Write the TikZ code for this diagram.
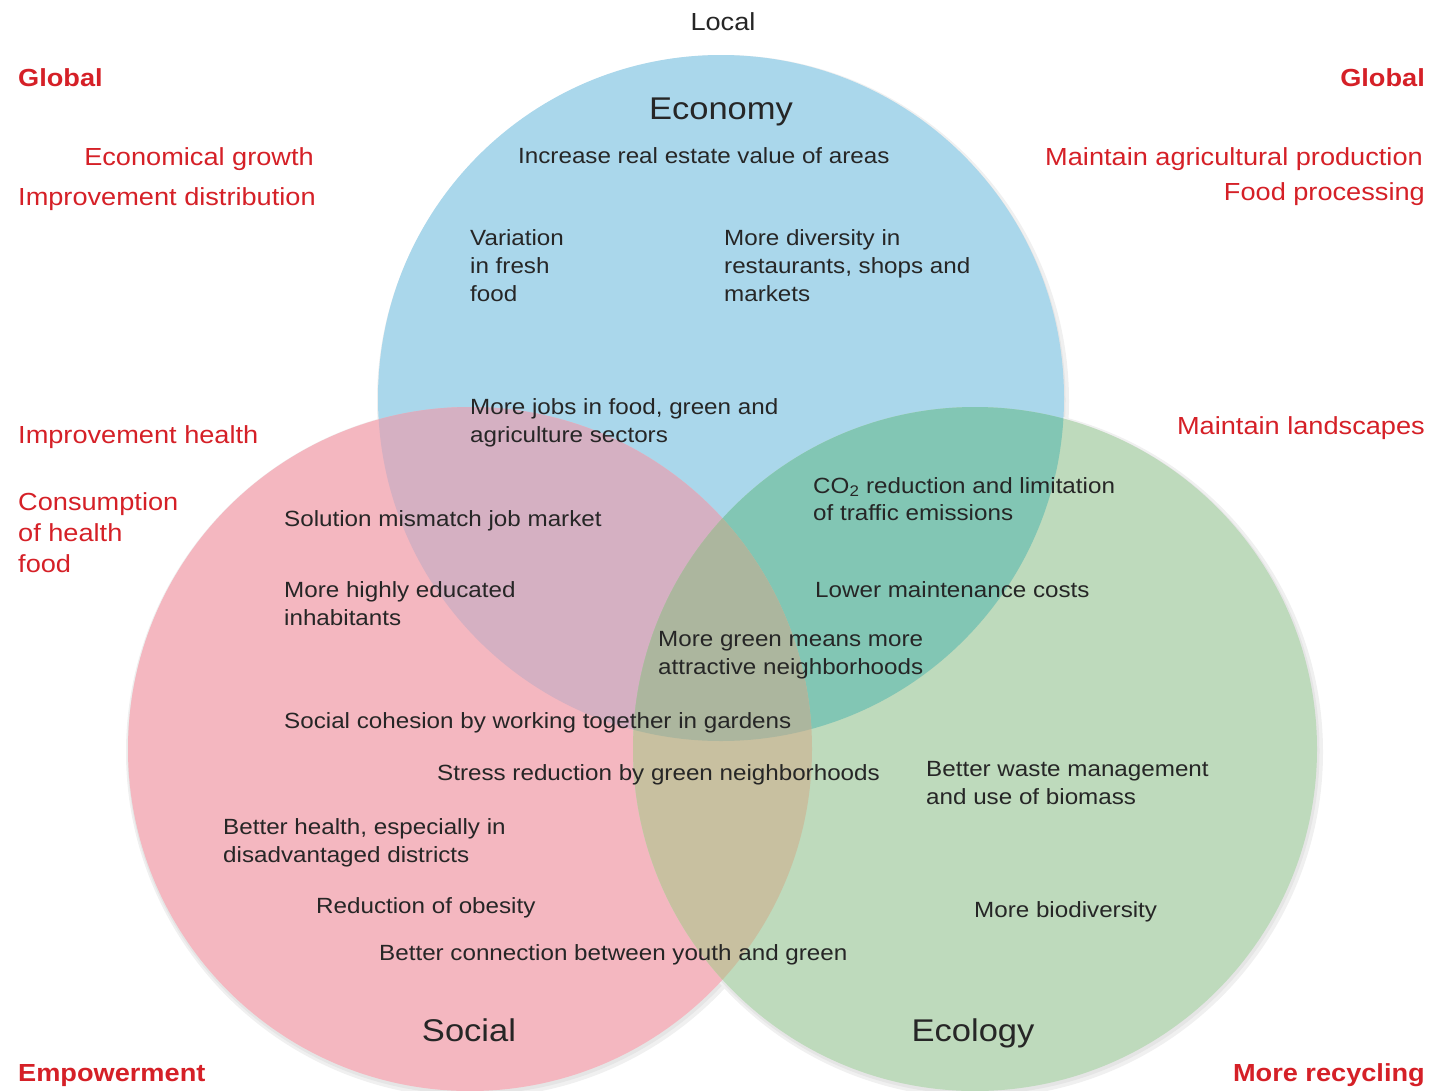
\documentclass[tikz,border=0pt]{standalone}
\usepackage{fontspec}
\setmainfont[FakeStretch=1.1]{Liberation Sans}
\usepackage{tikz}
\definecolor{ecoblue}{RGB}{170,215,235}
\definecolor{socpink}{RGB}{244,183,192}
\definecolor{eclgreen}{RGB}{190,218,188}
\definecolor{ecosoc}{RGB}{213,176,194}
\definecolor{ecoecl}{RGB}{130,198,180}
\definecolor{soceclonly}{RGB}{200,192,160}
\definecolor{allthree}{RGB}{172,182,158}
\definecolor{aimred}{RGB}{213,32,39}
\definecolor{itemgray}{RGB}{38,38,38}
% multi-line nodes sit on the baseline of their last line
\tikzstyle{item}=[inner sep=0pt, anchor=base west, align=left, text=itemgray, font=\fontsize{22}{28}\selectfont]
\tikzstyle{aim}=[inner sep=0pt, anchor=base west, align=left, text=aimred, font=\fontsize{24.7}{31}\selectfont]
\tikzstyle{aimbold}=[aim, font=\fontsize{24.7}{31}\selectfont\bfseries]
\tikzstyle{circtitle}=[inner sep=0pt, anchor=base, text=itemgray, font=\fontsize{31.4}{36}\selectfont]

\begin{document}
\begin{tikzpicture}[x=1pt, y=-1pt]
                    \useasboundingbox (0,0) rectangle (1443,1090);
                    \coordinate (eco) at (721, 398);
                    \coordinate (soc) at (470, 749);
                    \coordinate (ecl) at (975, 749);
                    % soft shadow
                    \foreach \c in {eco, soc, ecl} {
                        \fill[black!6]  ([shift={(2,3)}]\c) circle (346pt);
                        \fill[black!10] ([shift={(1,2)}]\c) circle (343.5pt);
                    }
                    \fill[ecoblue]  (eco) circle (343pt);
                    \fill[socpink]  (soc) circle (342pt);
                    \fill[eclgreen] (ecl) circle (342pt);
                    \begin{scope}
                        \clip (eco) circle (343pt);
                        \fill[ecosoc] (soc) circle (342pt);
                        \fill[ecoecl] (ecl) circle (342pt);
                    \end{scope}
                    \begin{scope}
                        \clip (soc) circle (342pt);
                        \fill[soceclonly] (ecl) circle (342pt);
                        \clip (eco) circle (343pt);
                        \fill[allthree] (ecl) circle (342pt);
                    \end{scope}
                    % titles
                    \node[circtitle, font=\fontsize{24.7}{30}\selectfont] (local) at (723, 30) {Local};
                    \node[circtitle] (economy) at (721, 119) {Economy};
                    \node[circtitle] (social)  at (469, 1041) {Social};
                    \node[circtitle] (ecology) at (973, 1041) {Ecology};
                    % outside goals
                    \node[aimbold] (globalL) at (18, 86) {Global};
                    \node[aimbold, anchor=base east] (globalR) at (1425, 86) {Global};
                    \node[aim, anchor=base east] (growth) at (314, 165) {Economical growth};
                    \node[aim] (distrib) at (18, 205) {Improvement distribution};
                    \node[aim, anchor=base east] (agri) at (1423, 165) {Maintain agricultural production};
                    \node[aim, anchor=base east] (processing) at (1425, 200) {Food processing};
                    \node[aim] (health) at (18, 443) {Improvement health};
                    \node[aim, anchor=base east] (landscapes) at (1425, 434) {Maintain landscapes};
                    \node[aim] (consumption) at (18, 572) {Consumption\\of health\\food};
                    \node[aimbold] (empower) at (18, 1081) {Empowerment};
                    \node[aimbold, anchor=base east] (recycling) at (1425, 1081) {More recycling};
                    % items in the circles
                    \node[item] (realestate) at (518, 163) {Increase real estate value of areas};
                    \node[item] (variation)  at (470, 301) {Variation\\in fresh\\food};
                    \node[item] (diversity)  at (724, 301) {More diversity in\\restaurants, shops and\\markets};
                    \node[item] (jobs)       at (470, 442) {More jobs in food, green and\\agriculture sectors};
                    \node[item, font=\fontsize{22}{27}\selectfont] (co2) at (813, 520) {CO\textsubscript{2} reduction and limitation\\of traffic emissions};
                    \node[item] (mismatch)   at (284, 526) {Solution mismatch job market};
                    \node[item] (educated)   at (284, 625) {More highly educated\\inhabitants};
                    \node[item] (maintenance) at (815, 597) {Lower maintenance costs};
                    \node[item] (attractive) at (658, 674) {More green means more\\attractive neighborhoods};
                    \node[item] (cohesion)   at (284, 728) {Social cohesion by working together in gardens};
                    \node[item] (stress)     at (437, 780) {Stress reduction by green neighborhoods};
                    \node[item] (waste)      at (926, 804) {Better waste management\\and use of biomass};
                    \node[item] (betterhealth) at (223, 862) {Better health, especially in\\disadvantaged districts};
                    \node[item] (obesity)    at (316, 913) {Reduction of obesity};
                    \node[item] (biodiv)     at (974, 917) {More biodiversity};
                    \node[item] (youth)      at (379, 960) {Better connection between youth and green};
                \end{tikzpicture}
\end{document}
